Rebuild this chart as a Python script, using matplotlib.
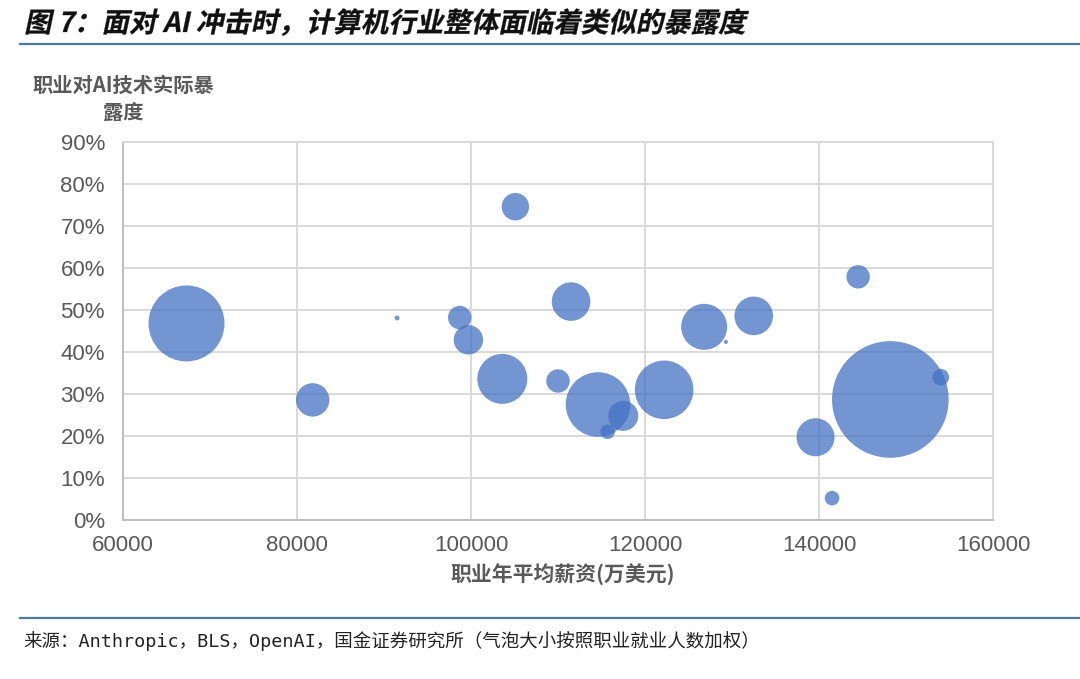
import matplotlib
matplotlib.use("Agg")
import matplotlib.pyplot as plt
import numpy as np
from matplotlib.textpath import TextPath
from matplotlib.patches import PathPatch
from matplotlib.font_manager import FontProperties
from matplotlib.transforms import Affine2D
from matplotlib.lines import Line2D
from matplotlib.ticker import FuncFormatter

plt.rcParams['font.family'] = ['Noto Sans CJK SC', 'DejaVu Sans']

# data (salary in USD, exposure as fraction, employment weight)
salary = [67300, 81800, 91500, 98700, 99700, 105100, 103600, 111500, 110000, 114600,
          117500, 115700, 122200, 126800, 129300, 132500, 144500, 148200, 154000,
          139600, 141500]
exposure = [0.468, 0.286, 0.481, 0.482, 0.429, 0.746, 0.336, 0.520, 0.331, 0.275,
            0.248, 0.210, 0.310, 0.460, 0.424, 0.486, 0.579, 0.287, 0.340,
            0.197, 0.052]
employment = [1444, 279, 6, 137, 216, 188, 625, 372, 137, 1043,
              225, 53, 858, 529, 4, 372, 137, 3399, 69,
              361, 53]

xticks = [60000, 80000, 100000, 120000, 140000, 160000]
yticks = [0, 0.1, 0.2, 0.3, 0.4, 0.5, 0.6, 0.7, 0.8, 0.9]

title = "图 7：面对 AI 冲击时，计算机行业整体面临着类似的暴露度"
ylabel = "职业对AI技术实际暴\n露度"
xlabel = "职业年平均薪资(万美元)"
source = "来源：Anthropic，BLS，OpenAI，国金证券研究所（气泡大小按照职业就业人数加权）"

W, H = 1080, 679
fig = plt.figure(figsize=(W / 100, H / 100), dpi=100)
fig.patch.set_facecolor('white')

ax = fig.add_axes([123 / W, 1 - 520 / H, 870 / W, 378 / H])

# bubble area ~ employment; 1 px = 0.72 pt
s = np.array(employment) * (0.72 * 2) ** 2
ax.scatter(salary, exposure, s=s, color='#4472C4', alpha=0.75,
           linewidths=0, zorder=3)

ax.set_xlim(60000, 160000)
ax.set_ylim(0, 0.9)
ax.set_xticks(xticks)
ax.set_yticks(yticks)
ax.yaxis.set_major_formatter(FuncFormatter(lambda v, p: f"{v * 100:.0f}%"))
ax.grid(True, color='#D9D9D9', linewidth=1.4, zorder=0)
ax.set_axisbelow(True)
for side in ['top', 'right']:
    ax.spines[side].set_color('#D9D9D9')
    ax.spines[side].set_linewidth(1.4)
for side in ['left', 'bottom']:
    ax.spines[side].set_color('#BFBFBF')
    ax.spines[side].set_linewidth(1.4)

tick_font = ['Liberation Sans', 'DejaVu Sans']
ax.tick_params(length=0, labelcolor='#595959', labelsize=16)
ax.tick_params(axis='y', pad=13)
ax.tick_params(axis='x', pad=11)
for lab in ax.get_xticklabels() + ax.get_yticklabels():
    lab.set_family(tick_font)

# axis titles
fig.text(123 / W, 1 - 99 / H, ylabel, ha='center', va='center', fontsize=14.6,
         fontweight='bold', color='#595959', linespacing=1.4)
fig.text(563 / W, 1 - 575 / H, xlabel, ha='center', va='center', fontsize=15,
         fontweight='bold', color='#595959')

# slanted bold title (CJK font has no italic, so skew the glyph outlines)
prop = FontProperties(family='Noto Sans CJK SC', weight='bold')
tp = TextPath((0, 0), title, size=27.5, prop=prop)
tr = Affine2D().skew_deg(12, 0).translate(24, H - 32)
fig.add_artist(PathPatch(tp, transform=tr, facecolor='#111111', edgecolor='#111111',
                         linewidth=0.2))

# rules above and below the chart
fig.add_artist(Line2D([20 / W, 1.0], [1 - 44 / H, 1 - 44 / H], color='#4A7C9E',
                      linewidth=1.6, transform=fig.transFigure))
fig.add_artist(Line2D([20 / W, 1.0], [1 - 618 / H, 1 - 618 / H], color='#4A7C9E',
                      linewidth=1.6, transform=fig.transFigure))

fig.text(23 / W, 1 - 641 / H, source, ha='left', va='center', fontsize=13.3,
         color='#222222', family=['DejaVu Sans Mono', 'Noto Sans CJK SC'])

fig.savefig('out.png', dpi=100, facecolor='white')
